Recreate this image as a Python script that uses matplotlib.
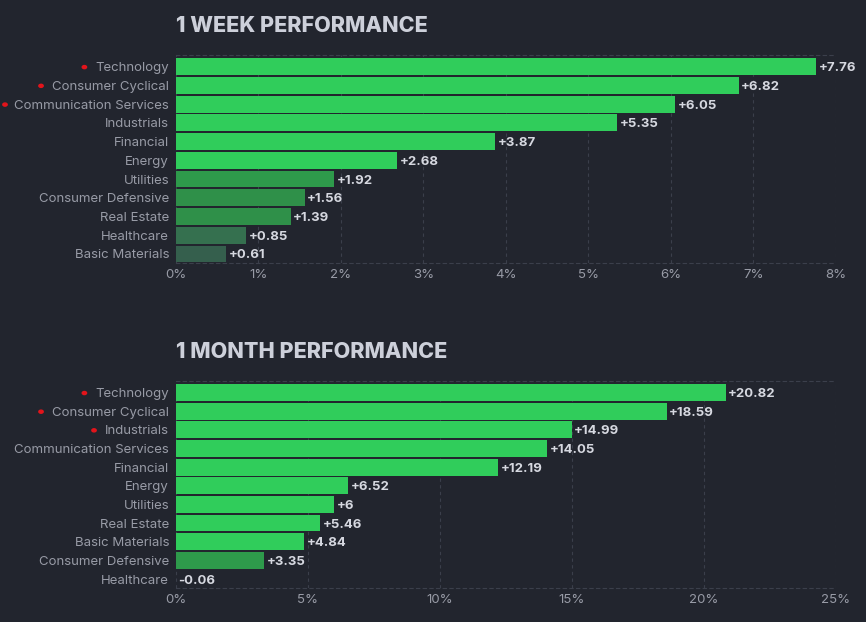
import matplotlib
matplotlib.use("Agg")
import matplotlib.pyplot as plt
from matplotlib.ticker import FuncFormatter

plt.rcParams['font.family'] = ['Inter', 'DejaVu Sans']

# --- data ---
week_sectors = ['Technology', 'Consumer Cyclical', 'Communication Services', 'Industrials',
                'Financial', 'Energy', 'Utilities', 'Consumer Defensive', 'Real Estate',
                'Healthcare', 'Basic Materials']
week_values = [7.76, 6.82, 6.05, 5.35, 3.87, 2.68, 1.92, 1.56, 1.39, 0.85, 0.61]
week_flagged = ['Technology', 'Consumer Cyclical', 'Communication Services']
week_ticks = [0, 1, 2, 3, 4, 5, 6, 7, 8]

month_sectors = ['Technology', 'Consumer Cyclical', 'Industrials', 'Communication Services',
                 'Financial', 'Energy', 'Utilities', 'Real Estate', 'Basic Materials',
                 'Consumer Defensive', 'Healthcare']
month_values = [20.82, 18.59, 14.99, 14.05, 12.19, 6.52, 6.0, 5.46, 4.84, 3.35, -0.06]
month_flagged = ['Technology', 'Consumer Cyclical', 'Industrials']
month_ticks = [0, 5, 10, 15, 20, 25]

BG = '#22252e'
GRID = '#3b3f4b'
TITLE = '#cdd0da'
LABEL = '#989ba6'
VALUE = '#d6d8e0'


def bar_colour(v, strong, mid):
    # colour shade by size of the move, like the source site does
    if v < 0:
        return '#5a5f6a'
    if v >= strong:
        return '#30cd5b'
    if v >= mid:
        return '#2e9a4b'
    if v >= mid * 0.7:
        return '#2f9049'
    if v >= mid * 0.4:
        return '#35704f'
    return '#355f4d'


fig = plt.figure(figsize=(8.66, 6.22), dpi=100, facecolor=BG)


def draw_panel(rect, title, sectors, values, ticks, strong, mid):
    ax = fig.add_axes(rect, facecolor=BG)
    ys = list(range(len(sectors)))
    colours = [bar_colour(v, strong, mid) for v in values]
    ax.barh(ys, values, height=0.9, color=colours, edgecolor='none', zorder=3)

    span = ticks[-1] - ticks[0]
    for y, v in zip(ys, values):
        txt = f'{v:+g}' if v != 0 else '0'
        ax.text(max(v, 0) + span * 0.004, y, txt, ha='left', va='center_baseline',
                color=VALUE, fontsize=9.5, fontweight='bold', zorder=4)

    ax.set_xlim(ticks[0], ticks[-1])
    ax.set_ylim(len(sectors) - 0.52, -0.62)
    ax.set_xticks(ticks)
    ax.xaxis.set_major_formatter(FuncFormatter(lambda x, _: f'{x:g}%'))
    ax.set_yticks(ys)
    ax.set_yticklabels(sectors)
    ax.tick_params(axis='both', length=0, colors=LABEL, labelsize=9.5)
    ax.tick_params(axis='y', pad=5)
    ax.tick_params(axis='x', pad=4)

    ax.grid(axis='x', color=GRID, linestyle=(0, (3, 3)), linewidth=0.8, zorder=0)
    for side in ['left', 'right']:
        ax.spines[side].set_visible(False)
    for side in ['top', 'bottom']:
        ax.spines[side].set_color(GRID)
        ax.spines[side].set_linestyle((0, (3, 3)))
        ax.spines[side].set_linewidth(0.8)

    ax.text(0, 1.09, title, transform=ax.transAxes, ha='left', va='bottom',
            color=TITLE, fontsize=15.5, fontweight='heavy')
    return ax


ax_w = draw_panel([0.2032, 0.5772, 0.7621, 0.3344], '1 WEEK PERFORMANCE',
                  week_sectors, week_values, week_ticks, 2.5, 1.8)
ax_m = draw_panel([0.2032, 0.0547, 0.7621, 0.3328], '1 MONTH PERFORMANCE',
                  month_sectors, month_values, month_ticks, 4.0, 3.0)

# red dots in front of flagged sector names
fig.canvas.draw()
renderer = fig.canvas.get_renderer()
for ax, flagged in ((ax_w, week_flagged), (ax_m, month_flagged)):
    for lab in ax.get_yticklabels():
        if lab.get_text() in flagged:
            bb = lab.get_window_extent(renderer)
            x_px = max(bb.x0 - 11, 5)
            y_px = (bb.y0 + bb.y1) / 2 + 1
            fx, fy = fig.transFigure.inverted().transform((x_px, y_px))
            fig.patches.append(plt.Circle((fx, fy), 0.0025, color='#e3141b',
                                          transform=fig.transFigure, figure=fig))

fig.savefig('out.png', dpi=100, facecolor=BG)
